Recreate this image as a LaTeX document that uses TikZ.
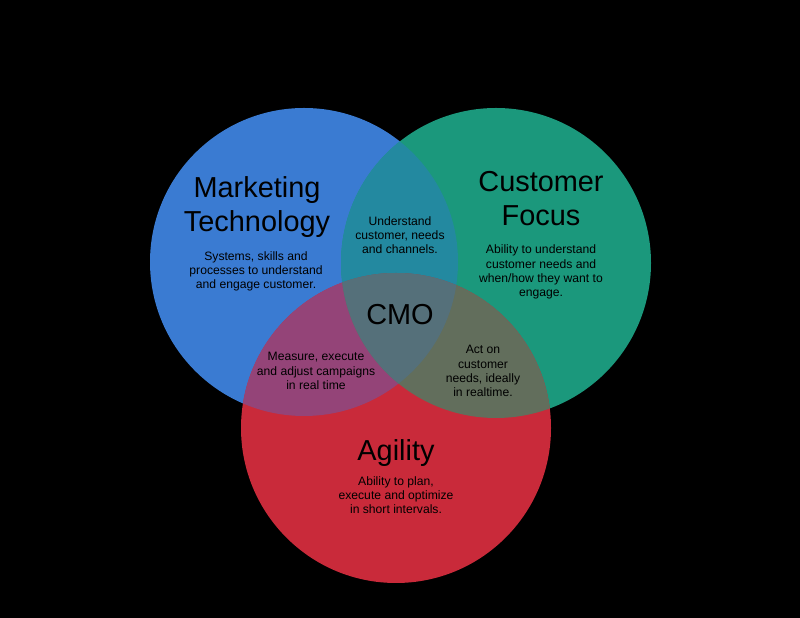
\documentclass[tikz,border=0pt]{standalone}
\usepackage{fontspec}
\setmainfont{Liberation Sans}
\usepackage{tikz}
\definecolor{mtblue}{RGB}{58,123,210}
\definecolor{cfgreen}{RGB}{27,152,124}
\definecolor{agred}{RGB}{201,42,58}
\definecolor{mtcf}{RGB}{35,137,160}
\definecolor{mtag}{RGB}{148,68,120}
\definecolor{cfag}{RGB}{98,110,92}
\definecolor{cmomix}{RGB}{85,112,122}

\begin{document}
\begin{tikzpicture}[x=1bp,y=1bp,
	title/.style={font=\fontsize{29}{35}\selectfont,align=center,inner sep=0pt},
	note/.style={font=\fontsize{12.2}{14.2}\selectfont,align=center,inner sep=0pt}]
	\fill[black] (0bp,0bp) rectangle (800bp,618bp);

	\coordinate (cmt) at (304bp,356bp);
	\coordinate (ccf) at (496bp,355bp);
	\coordinate (cag) at (396bp,190bp);

	\fill[mtblue]  (cmt) circle (154bp);
	\fill[cfgreen] (ccf) circle (155bp);
	\fill[agred]   (cag) circle (155bp);
	\begin{scope}
		\clip (cmt) circle (154bp);
		\fill[mtcf] (ccf) circle (155bp);
		\fill[mtag] (cag) circle (155bp);
	\end{scope}
	\begin{scope}
		\clip (ccf) circle (155bp);
		\fill[cfag] (cag) circle (155bp);
		\clip (cmt) circle (154bp);
		\fill[cmomix] (cag) circle (155bp);
	\end{scope}

	\node (mt)     at (257bp,411bp)   [title] {Marketing\\Technology};
	\node (mtnote) at (256bp,346.5bp) [note]  {Systems, skills and\\processes to understand\\and engage customer.};
	\node (cf)     at (541bp,419.5bp) [title] {Customer\\Focus};
	\node (cfnote) at (541bp,346bp)   [note]  {Ability to understand\\customer needs and\\when/how they want to\\engage.};
	\node (ag)     at (396bp,164.5bp) [title] {Agility};
	\node (agnote) at (396bp,123bp)   [note]  {Ability to plan,\\execute and optimize\\in short intervals.};
	\node (mtcfnote) at (400bp,383bp) [note] {Understand\\customer, needs\\and channels.};
	\node (mtagnote) at (316bp,247bp) [note] {Measure, execute\\and adjust campaigns\\in real time};
	\node (cfagnote) at (483bp,247bp) [note] {Act on\\customer\\needs, ideally\\in realtime.};
	\node (cmo)    at (400bp,303.5bp) [title] {CMO};
\end{tikzpicture}
\end{document}
